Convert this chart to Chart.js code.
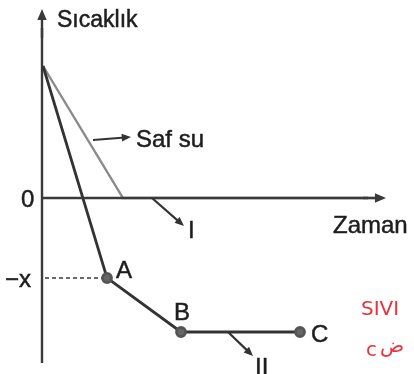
<!DOCTYPE html>
<html>
<head>
<meta charset="utf-8">
<script src="https://cdn.jsdelivr.net/npm/chart.js@4.4.0/dist/chart.umd.min.js"></script>
<style>
  html, body { margin: 0; padding: 0; background: #fff; }
  #wrap { width: 414px; height: 374px; }
</style>
</head>
<body>
<div id="wrap"><canvas id="myChart" width="414" height="374"></canvas></div>
<script>
// time / temperature readings (arbitrary units, 0 on the time axis = y axis)
const safSuTime = [0, 8.0, 34.0];
const safSuTemp = [13.2, 0, 0];
const iiTime = [0, 6.4, 13.8, 25.7];
const iiTemp = [13.2, -8.0, -13.4, -13.4];
const pointNames = ['', 'A', 'B', 'C'];
const minusX = -8.0;

function pts (xs, ys) {
    return xs.map((x, i) => ({ x: x, y: ys[i] }));
}

function arrow (ctx, x1, y1, x2, y2, head) {
    const a = Math.atan2(y2 - y1, x2 - x1);
    ctx.beginPath();
    ctx.moveTo(x1, y1);
    ctx.lineTo(x2 - Math.cos(a) * head * 0.6, y2 - Math.sin(a) * head * 0.6);
    ctx.stroke();
    ctx.beginPath();
    ctx.moveTo(x2, y2);
    ctx.lineTo(x2 - head * Math.cos(a - 0.4), y2 - head * Math.sin(a - 0.4));
    ctx.lineTo(x2 - head * Math.cos(a + 0.4), y2 - head * Math.sin(a + 0.4));
    ctx.closePath();
    ctx.fill();
}

function label (ctx, txt, x, y) {
    ctx.fillText(txt, x, y);
    ctx.strokeText(txt, x, y);
}

const sketch = {
    id: 'sketch',
    beforeDatasetsDraw (chart) {
        const ctx = chart.ctx;
        const sx = v => chart.scales.x.getPixelForValue(v);
        const sy = v => chart.scales.y.getPixelForValue(v);
        ctx.save();
        ctx.strokeStyle = '#3a3a3a';
        ctx.fillStyle = '#3a3a3a';
        ctx.lineWidth = 2.4;
        // y axis
        ctx.beginPath();
        ctx.moveTo(sx(0) - 1, sy(-16.5));
        ctx.lineTo(sx(0) - 1, sy(17.0));
        ctx.stroke();
        arrow(ctx, sx(0) - 1, sy(16.0), sx(0) - 1, sy(18.9), 12);
        // dashed -x guide
        ctx.setLineDash([4, 3]);
        ctx.lineWidth = 1.6;
        ctx.beginPath();
        ctx.moveTo(sx(0) + 2, sy(minusX));
        ctx.lineTo(sx(iiTime[1]), sy(minusX));
        ctx.stroke();
        ctx.restore();
    },
    afterDatasetsDraw (chart) {
        const ctx = chart.ctx;
        const sx = v => chart.scales.x.getPixelForValue(v);
        const sy = v => chart.scales.y.getPixelForValue(v);
        ctx.save();
        ctx.strokeStyle = '#3a3a3a';
        ctx.fillStyle = '#3a3a3a';
        ctx.lineWidth = 2.4;
        // time axis on top of the flat part of the saf su line
        ctx.beginPath();
        ctx.moveTo(sx(0) - 1, sy(0));
        ctx.lineTo(sx(32.5), sy(0));
        ctx.stroke();
        arrow(ctx, sx(32.0), sy(0), sx(34.3), sy(0), 12);

        ctx.strokeStyle = '#333';
        ctx.fillStyle = '#333';
        ctx.lineWidth = 2.2;
        arrow(ctx, sx(5.0), sy(5.8), sx(8.8), sy(6.1), 10);
        arrow(ctx, sx(10.9), sy(0), sx(14.1), sy(-2.8), 10);
        arrow(ctx, sx(18.5), sy(-13.4), sx(21.0), sy(-15.8), 10);

        ctx.fillStyle = '#1e1e1e';
        ctx.strokeStyle = '#1e1e1e';
        ctx.lineWidth = 0.5;
        ctx.textBaseline = 'alphabetic';
        ctx.font = '23px "Liberation Sans", Arial, sans-serif';
        label(ctx, 'Sıcaklık', 57, 27);
        ctx.font = '24px "Liberation Sans", Arial, sans-serif';
        label(ctx, 'Zaman', 333, 233);
        label(ctx, 'Saf su', 136, 147);
        label(ctx, '0', 21, 207);
        label(ctx, '−x', 5, 287);
        label(ctx, 'I', 188, 238);
        label(ctx, 'II', 255, 375);
        label(ctx, 'A', 116, 278);
        label(ctx, 'B', 174, 320);
        label(ctx, 'C', 311, 342);

        ctx.fillStyle = '#e8323c';
        ctx.font = '20px "DejaVu Sans", sans-serif';
        ctx.fillText('SIVI', 361, 315);
        ctx.fillText('c', 366, 356);
        ctx.fillText('ض', 380, 352);
        ctx.restore();
    }
};

const ctx = document.getElementById('myChart').getContext('2d');
const myChart = new Chart(ctx, {
    type: 'scatter',
    data: {
        datasets: [
            {
                label: 'Saf su',
                data: pts(safSuTime, safSuTemp),
                showLine: true,
                borderColor: '#8a8a8a',
                borderWidth: 2.4,
                pointRadius: 0,
                order: 2
            },
            {
                label: 'II',
                data: pts(iiTime, iiTemp),
                showLine: true,
                borderColor: '#333',
                borderWidth: 2.8,
                pointRadius: pointNames.map(n => n ? 4.5 : 0),
                pointBackgroundColor: '#666',
                pointBorderColor: '#555',
                order: 1
            }
        ]
    },
    options: {
        responsive: false,
        animation: false,
        layout: { padding: 0, autoPadding: false },
        plugins: { legend: { display: false }, tooltip: { enabled: false } },
        scales: {
            x: { type: 'linear', display: false, min: -4.3, max: 37.1 },
            y: { type: 'linear', display: false, min: -17.6, max: 19.8 }
        }
    },
    plugins: [sketch]
});
</script>
</body>
</html>
